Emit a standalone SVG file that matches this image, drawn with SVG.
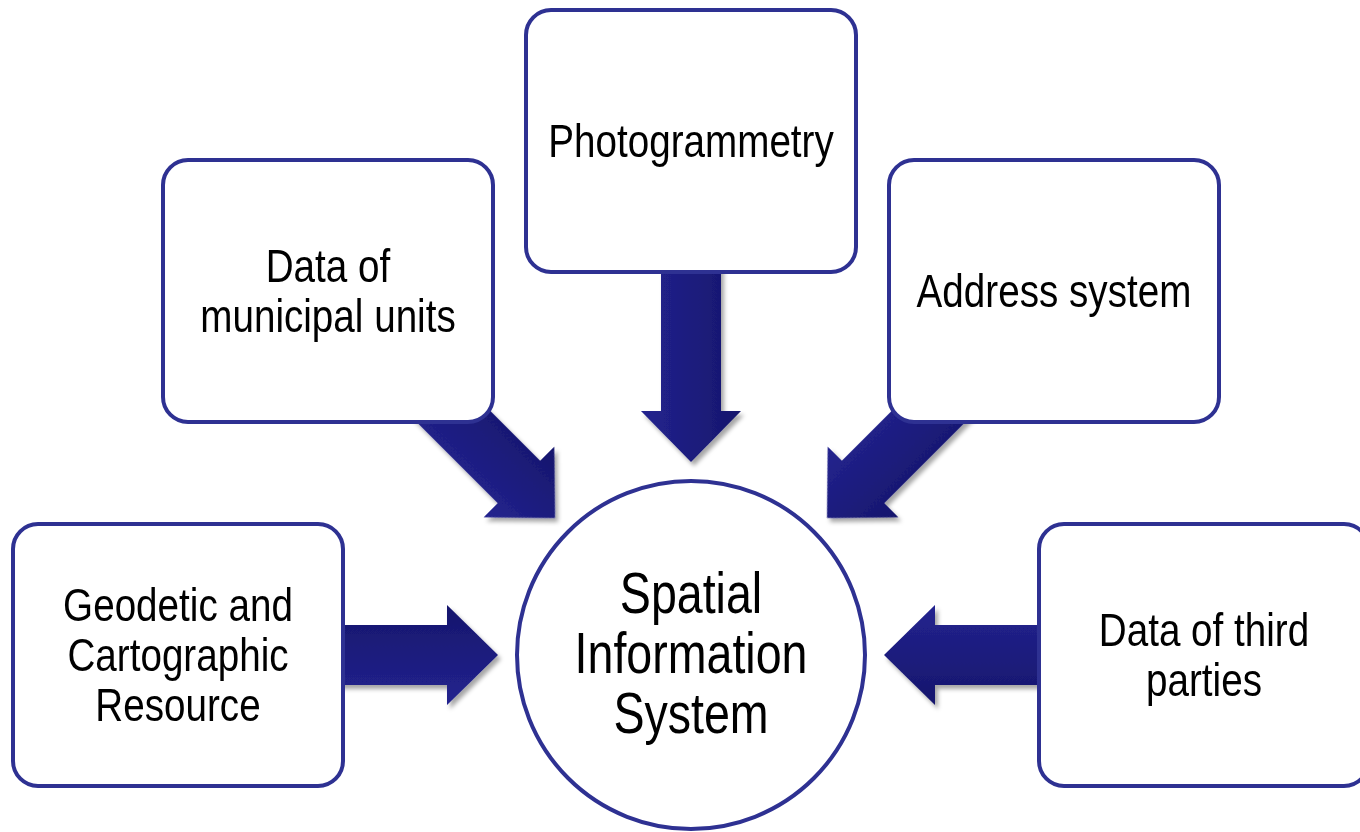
<svg xmlns="http://www.w3.org/2000/svg" xmlns:xlink="http://www.w3.org/1999/xlink" width="1360" height="832" viewBox="0 0 1360 832">
  <style>
    .box { fill: #ffffff; stroke: #2e3192; stroke-width: 4; }
    .lbl { font-family: "Liberation Sans", Arial, sans-serif; font-size: 46px; fill: #000000; text-anchor: middle; }
    .big { font-family: "Liberation Sans", Arial, sans-serif; font-size: 57px; fill: #000000; text-anchor: middle; }
  </style>
  <defs>
    <linearGradient id="arrowGrad" x1="0" y1="0" x2="0" y2="1">
      <stop offset="0" stop-color="#16166c"/>
      <stop offset="1" stop-color="#23238f"/>
    </linearGradient>
    <filter id="shadow" x="-10%" y="-10%" width="130%" height="130%">
      <feDropShadow dx="3" dy="4" stdDeviation="2" flood-color="#000000" flood-opacity="0.35"/>
    </filter>
    <path id="arrow" d="M0,0 L-51,-50 L-51,-30 L-200,-30 L-200,30 L-51,30 L-51,50 Z" fill="url(#arrowGrad)"/>
  </defs>
  <rect width="1360" height="832" fill="#ffffff"/>

  <g id="connectors" filter="url(#shadow)">
    <use xlink:href="#arrow" href="#arrow" transform="translate(498,655)"/>
    <use xlink:href="#arrow" href="#arrow" transform="translate(884,655) rotate(180)"/>
    <use xlink:href="#arrow" href="#arrow" transform="translate(691,462) rotate(90)"/>
    <use xlink:href="#arrow" href="#arrow" transform="translate(555,518) rotate(45)"/>
    <use xlink:href="#arrow" href="#arrow" transform="translate(827,518) rotate(135)"/>
  </g>

  <g id="node-geodetic">
    <rect class="box" x="13" y="524" width="330" height="262" rx="25"/>
    <text class="lbl" transform="translate(178,0) scale(0.84,1)"><tspan x="0" y="621">Geodetic and</tspan><tspan x="0" y="671">Cartographic</tspan><tspan x="0" y="721">Resource</tspan></text>
  </g>

  <g id="node-municipal">
    <rect class="box" x="163" y="160" width="330" height="262" rx="25"/>
    <text class="lbl" transform="translate(328,0) scale(0.84,1)"><tspan x="0" y="282">Data of</tspan><tspan x="0" y="332">municipal units</tspan></text>
  </g>

  <g id="node-photogrammetry">
    <rect class="box" x="526" y="10" width="330" height="262" rx="25"/>
    <text class="lbl" transform="translate(691,0) scale(0.84,1)"><tspan x="0" y="157">Photogrammetry</tspan></text>
  </g>

  <g id="node-address">
    <rect class="box" x="889" y="160" width="330" height="262" rx="25"/>
    <text class="lbl" transform="translate(1054,0) scale(0.84,1)"><tspan x="0" y="307">Address system</tspan></text>
  </g>

  <g id="node-thirdparties">
    <rect class="box" x="1039" y="524" width="330" height="262" rx="25"/>
    <text class="lbl" transform="translate(1204,0) scale(0.84,1)"><tspan x="0" y="646">Data of third</tspan><tspan x="0" y="696">parties</tspan></text>
  </g>

  <g id="node-sis">
    <circle class="box" cx="691" cy="655" r="174"/>
    <text class="big" transform="translate(691,0) scale(0.817,1)"><tspan x="0" y="613">Spatial</tspan><tspan x="0" y="673">Information</tspan><tspan x="0" y="733">System</tspan></text>
  </g>
</svg>
